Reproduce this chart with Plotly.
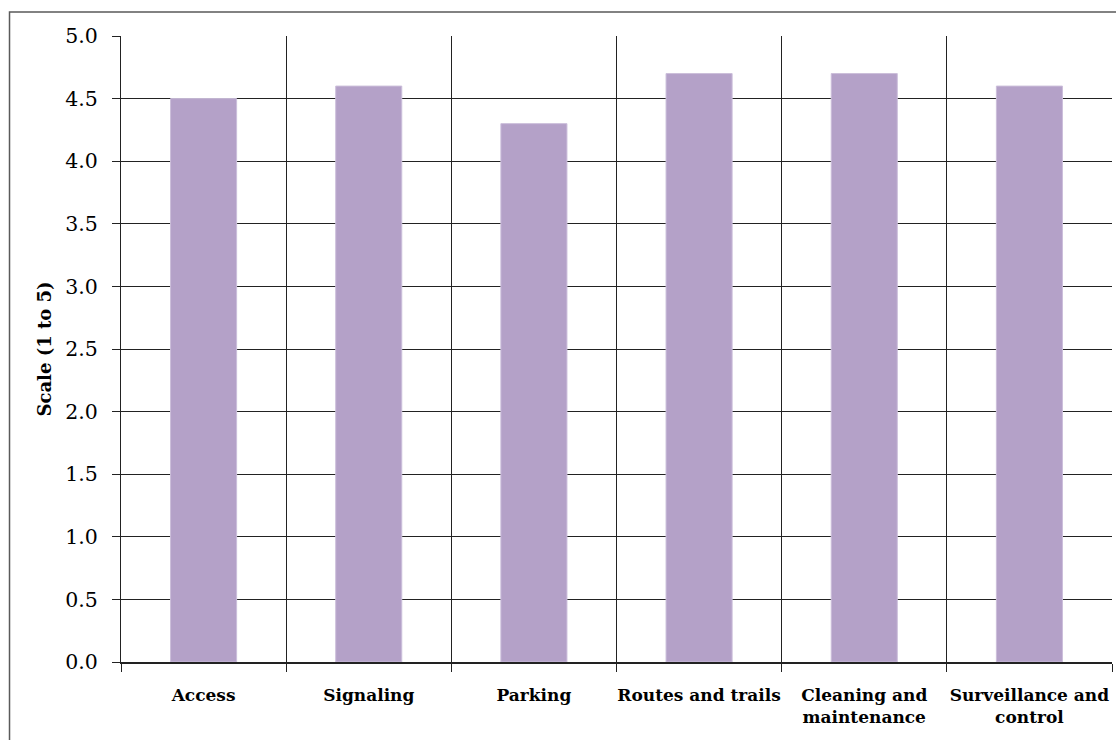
import plotly.graph_objects as go

# Mean ratings per infrastructure item
categories = ["Access", "Signaling", "Parking", "Routes and trails",
              "Cleaning and<br>maintenance", "Surveillance and<br>control"]
scores = [4.5, 4.6, 4.3, 4.7, 4.7, 4.6]
y_ticks = [0.0, 0.5, 1.0, 1.5, 2.0, 2.5, 3.0, 3.5, 4.0, 4.5, 5.0]

serif = "DejaVu Serif"

fig = go.Figure(
    go.Bar(
        x=categories,
        y=scores,
        width=0.4,
        marker=dict(color="#B4A1C8", line=dict(color="#CBBEDA", width=1)),
    )
)

fig.update_layout(
    width=1116,
    height=740,
    margin=dict(l=121, r=4, t=36, b=78, autoexpand=False),
    paper_bgcolor="white",
    plot_bgcolor="white",
    showlegend=False,
    bargap=0.6,
    font=dict(family=serif, color="black"),
    shapes=[
        dict(type="rect", xref="paper", yref="paper",
             x0=-0.1125, x1=1.2, y0=-0.3, y1=1.0383,
             line=dict(color="#5a5a5a", width=1.5), layer="below"),
    ],
)

fig.update_xaxes(
    type="category",
    tickson="boundaries",
    showgrid=True,
    gridcolor="#222",
    gridwidth=1,
    showline=True,
    linecolor="#222",
    linewidth=1.5,
    ticks="outside",
    ticklen=8,
    tickcolor="#222",
    tickangle=0,
    automargin=False,
    ticklabelstandoff=17,
    tickfont=dict(family=serif, size=17, color="black", weight="bold"),
    range=[-0.5, 5.5],
    mirror=False,
)

fig.update_yaxes(
    range=[0, 5],
    tickvals=y_ticks,
    ticktext=[f"{v:.1f}" for v in y_ticks],
    showgrid=True,
    gridcolor="#222",
    gridwidth=1,
    showline=True,
    linecolor="#222",
    linewidth=1,
    ticks="outside",
    ticklen=8,
    tickcolor="#222",
    ticklabelstandoff=10,
    zeroline=False,
    automargin=False,
    tickfont=dict(family=serif, size=20.5, color="black"),
    title=dict(text="Scale (1 to 5)",
               font=dict(family=serif, size=18, color="black", weight="bold"),
               standoff=8),
)

fig.write_html("out.html")
